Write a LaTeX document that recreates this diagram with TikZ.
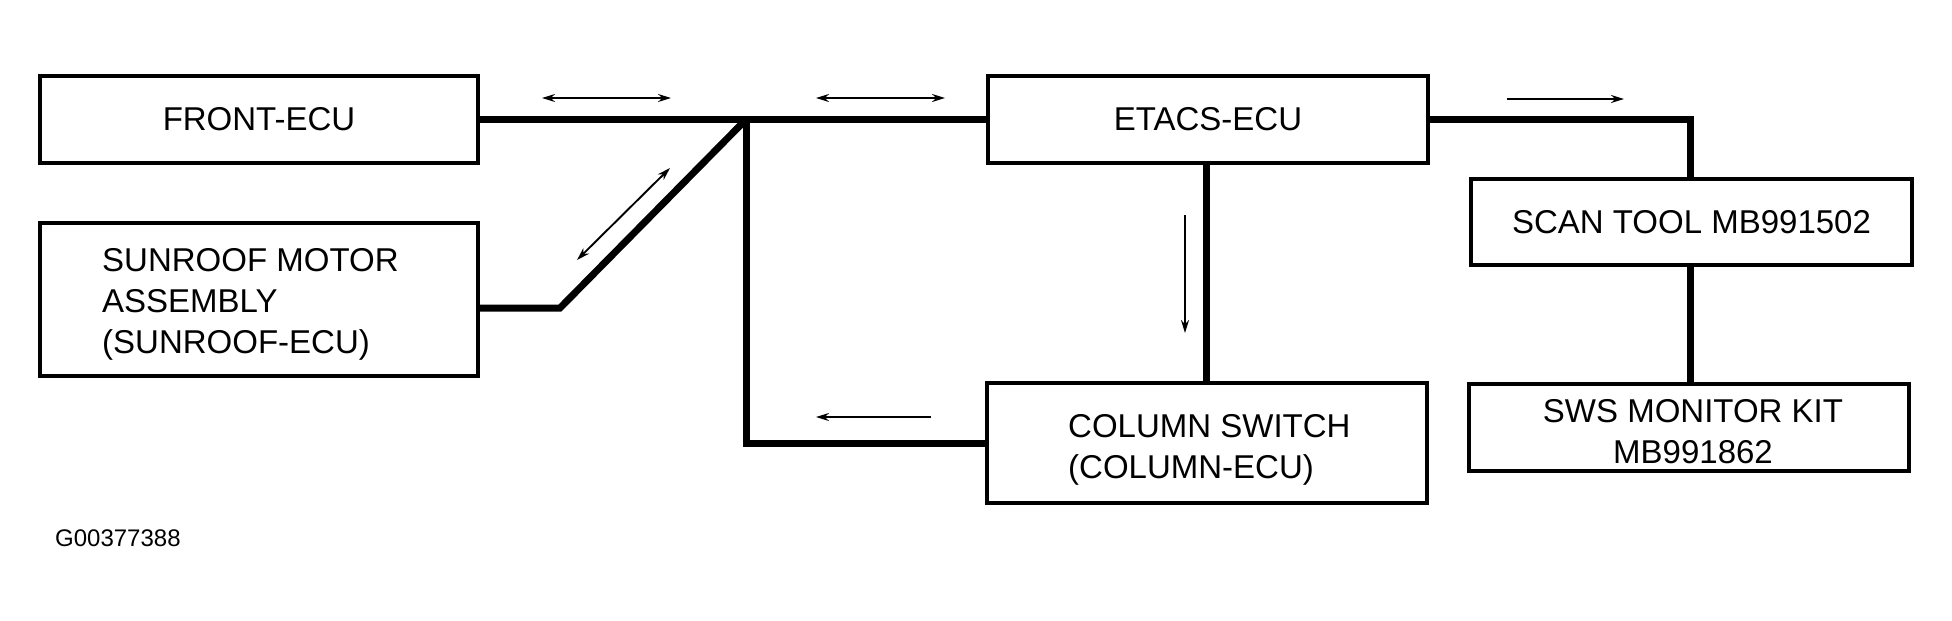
\documentclass[tikz,border=0pt]{standalone}
\usepackage{fontspec}
\setmainfont{Liberation Sans}
\usetikzlibrary{arrows.meta,calc}
\begin{document}
\begin{tikzpicture}[x=1pt,y=-1pt,
  box/.style={draw=black,line width=3.5pt,inner sep=0pt,font=\fontsize{33}{41}\selectfont},
  txt/.style={inner sep=0pt,font=\fontsize{33}{41}\selectfont},
  bus/.style={line width=7pt,line join=miter,line cap=butt},
  ann/.style={line width=1.9pt},
  tip/.style={-{Stealth[length=13pt,width=8pt]}},
  dtip/.style={{Stealth[length=13pt,width=8pt]}-{Stealth[length=13pt,width=8pt]}}]
\useasboundingbox (0,0) rectangle (1952,621);
% boxes
\node[box,minimum width=438pt,minimum height=87pt] (front) at (259,119.5) {FRONT-ECU};
\node[box,minimum width=438pt,minimum height=153pt] (sun) at (259,299.5) {};
\node[txt,anchor=west,align=left] (suntext) at (102,304) {SUNROOF MOTOR\\ASSEMBLY\\(SUNROOF-ECU)};
\node[box,minimum width=440pt,minimum height=87pt] (etacs) at (1208,119.5) {ETACS-ECU};
\node[box,minimum width=440pt,minimum height=120pt] (col) at (1207,443) {};
\node[txt,anchor=west,align=left] (coltext) at (1068,450) {COLUMN SWITCH\\(COLUMN-ECU)};
\node[box,minimum width=441pt,minimum height=86pt] (scan) at (1691.5,222) {SCAN TOOL MB991502};
\node[box,minimum width=440pt,minimum height=87pt] (sws) at (1689,427.5) {};
\node[txt,align=center] (swstext) at (1693,432) {SWS MONITOR KIT\\MB991862};
\node[anchor=west,inner sep=0pt,font=\fontsize{24}{28}\selectfont] (code) at (55,538) {G00377388};
% connectors
\coordinate (J) at (746,119.5);
\coordinate (S1) at (560,308);
\draw[bus] (front.east) -- (etacs.west);
\draw[bus] (sun.east |- S1) -- (S1) -- (J);
\draw[bus] (J) |- (col.west);
\draw[bus] (etacs.south -| 1206,0) -- (col.north -| 1206,0);
\draw[bus] (etacs.east) -| (scan.north -| 1690,0);
\draw[bus] (scan.south -| 1690,0) -- (sws.north -| 1690,0);
% direction arrows
\coordinate (a1s) at (542,98); \coordinate (a1e) at (671,98);
\coordinate (a2s) at (816,98); \coordinate (a2e) at (945,98);
\coordinate (a3s) at (1507,99); \coordinate (a3e) at (1624,99);
\coordinate (a4s) at (1185,215); \coordinate (a4e) at (1185,333);
\coordinate (a5s) at (931,417); \coordinate (a5e) at (816,417);
\coordinate (a6s) at (577,260); \coordinate (a6e) at (670,168);
\draw[ann,dtip] (a1s) -- (a1e);
\draw[ann,dtip] (a2s) -- (a2e);
\draw[ann,tip] (a3s) -- (a3e);
\draw[ann,tip] (a4s) -- (a4e);
\draw[ann,tip] (a5s) -- (a5e);
\draw[ann,dtip] (a6s) -- (a6e);
\end{tikzpicture}
\end{document}
